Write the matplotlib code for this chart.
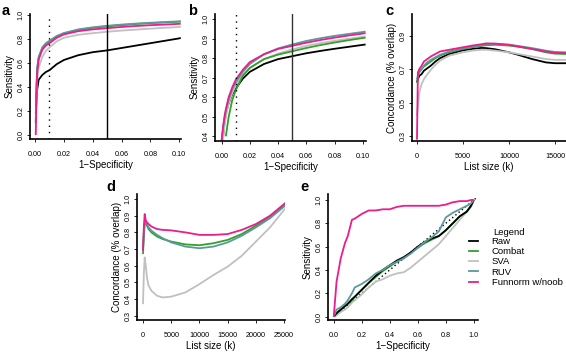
import matplotlib
matplotlib.use('Agg')
import matplotlib.pyplot as plt
from matplotlib.lines import Line2D

plt.rcParams['font.family'] = ['Liberation Sans', 'DejaVu Sans']

# colours for the five methods
col_raw = '#000000'
col_combat = '#33A02C'
col_sva = '#C0C0C0'
col_ruv = '#5A9A9A'
col_fun = '#EC1C8C'

# ---- panel a : ROC zoom (1-specificity 0..0.1)
a_x = [0.0005, 0.001, 0.0015, 0.0025, 0.005, 0.0075, 0.01, 0.015, 0.02, 0.03, 0.04, 0.05, 0.06, 0.07, 0.08, 0.09, 0.10, 0.101]
a_raw = [0.18, 0.30, 0.38, 0.46, 0.50, 0.525, 0.54, 0.59, 0.625, 0.665, 0.69, 0.705, 0.725, 0.745, 0.765, 0.785, 0.805, 0.81]
a_combat = [0.10, 0.40, 0.55, 0.64, 0.72, 0.76, 0.78, 0.82, 0.845, 0.875, 0.893, 0.905, 0.915, 0.925, 0.932, 0.938, 0.944, 0.945]
a_sva = [0.12, 0.29, 0.45, 0.56, 0.65, 0.70, 0.73, 0.78, 0.81, 0.835, 0.848, 0.86, 0.87, 0.878, 0.886, 0.893, 0.90, 0.90]
a_ruv = [0.10, 0.40, 0.56, 0.65, 0.73, 0.765, 0.785, 0.825, 0.85, 0.88, 0.897, 0.91, 0.92, 0.928, 0.935, 0.941, 0.947, 0.948]
a_fun = [0.0, 0.35, 0.53, 0.63, 0.71, 0.745, 0.765, 0.81, 0.838, 0.865, 0.88, 0.89, 0.90, 0.908, 0.915, 0.92, 0.926, 0.927]

# ---- panel b : ROC zoom, second comparison
b_x = [0.0, 0.001, 0.002, 0.003, 0.005, 0.0075, 0.01, 0.015, 0.02, 0.03, 0.04, 0.05, 0.06, 0.07, 0.08, 0.09, 0.10, 0.102]
b_raw = [None, 0.40, 0.47, 0.52, 0.57, 0.615, 0.645, 0.695, 0.73, 0.77, 0.795, 0.81, 0.825, 0.837, 0.848, 0.858, 0.868, 0.87]
b_combat = [None, None, None, 0.40, 0.50, 0.585, 0.635, 0.71, 0.75, 0.795, 0.818, 0.835, 0.852, 0.867, 0.88, 0.892, 0.903, 0.905]
b_sva = [None, 0.38, 0.45, 0.50, 0.57, 0.62, 0.66, 0.715, 0.75, 0.795, 0.823, 0.845, 0.863, 0.877, 0.889, 0.899, 0.909, 0.911]
b_ruv = [0.38, 0.44, 0.49, 0.53, 0.59, 0.64, 0.675, 0.73, 0.77, 0.82, 0.85, 0.87, 0.888, 0.902, 0.914, 0.924, 0.934, 0.936]
b_fun = [0.38, 0.45, 0.50, 0.54, 0.60, 0.65, 0.69, 0.74, 0.78, 0.82, 0.847, 0.863, 0.879, 0.893, 0.905, 0.916, 0.926, 0.928]

# ---- panel c : concordance vs list size
c_x = [0, 100, 250, 500, 750, 1000, 1500, 2000, 2500, 3500, 5000, 6000, 7000, 7500, 8500, 10000, 11000, 12500, 14000, 15000, 16200]
c_raw = [0.62, 0.64, 0.66, 0.67, 0.69, 0.70, 0.72, 0.745, 0.765, 0.79, 0.812, 0.82, 0.826, 0.825, 0.818, 0.80, 0.785, 0.76, 0.74, 0.735, 0.735]
c_combat = [0.62, 0.65, 0.68, 0.70, 0.715, 0.725, 0.745, 0.765, 0.78, 0.80, 0.82, 0.83, 0.838, 0.842, 0.845, 0.84, 0.833, 0.82, 0.80, 0.792, 0.79]
c_sva = [0.42, 0.48, 0.56, 0.61, 0.64, 0.66, 0.695, 0.725, 0.75, 0.78, 0.80, 0.81, 0.815, 0.815, 0.81, 0.80, 0.79, 0.775, 0.76, 0.755, 0.755]
c_ruv = [0.64, 0.66, 0.69, 0.70, 0.72, 0.735, 0.755, 0.77, 0.785, 0.805, 0.823, 0.833, 0.841, 0.846, 0.848, 0.845, 0.838, 0.825, 0.81, 0.802, 0.80]
c_fun = [0.28, 0.68, 0.70, 0.72, 0.745, 0.755, 0.775, 0.79, 0.805, 0.815, 0.83, 0.84, 0.848, 0.853, 0.852, 0.845, 0.835, 0.82, 0.805, 0.797, 0.795]

# ---- panel d : concordance over the full list
d_x = [0, 150, 300, 500, 700, 1000, 1500, 2500, 3500, 5000, 7500, 10000, 12500, 15000, 17500, 20000, 22500, 25000, 26000]
d_combat = [0.67, 0.78, 0.85, 0.86, 0.84, 0.82, 0.80, 0.775, 0.76, 0.745, 0.728, 0.723, 0.735, 0.755, 0.79, 0.84, 0.89, 0.96, 0.99]
d_sva = [0.37, 0.55, 0.65, 0.60, 0.53, 0.48, 0.45, 0.42, 0.41, 0.415, 0.44, 0.49, 0.545, 0.595, 0.66, 0.745, 0.83, 0.935, 0.975]
d_ruv = [0.70, 0.80, 0.86, 0.87, 0.85, 0.83, 0.81, 0.785, 0.765, 0.74, 0.715, 0.705, 0.715, 0.74, 0.78, 0.83, 0.885, 0.955, 0.99]
d_fun = [0.69, 0.83, 0.91, 0.87, 0.86, 0.85, 0.835, 0.82, 0.815, 0.812, 0.80, 0.785, 0.785, 0.79, 0.815, 0.85, 0.9, 0.97, 1.0]

# ---- panel e : full ROC
e_x = [0.0, 0.02, 0.05, 0.08, 0.10, 0.13, 0.15, 0.20, 0.25, 0.30, 0.35, 0.40, 0.45, 0.50, 0.55, 0.60, 0.65, 0.70, 0.75, 0.80, 0.85, 0.90, 0.95, 0.98, 1.0]
e_raw = [0.0, 0.03, 0.06, 0.09, 0.11, 0.15, 0.17, 0.23, 0.29, 0.35, 0.40, 0.44, 0.48, 0.51, 0.55, 0.60, 0.64, 0.67, 0.69, 0.74, 0.80, 0.86, 0.90, 0.95, 1.0]
e_combat = [0.0, 0.03, 0.06, 0.09, 0.11, 0.14, 0.17, 0.23, 0.29, 0.34, 0.39, 0.43, 0.47, 0.50, 0.55, 0.59, 0.63, 0.66, 0.69, 0.74, 0.80, 0.86, 0.90, 0.95, 1.0]
e_sva = [0.0, 0.01, 0.04, 0.06, 0.08, 0.12, 0.14, 0.19, 0.25, 0.30, 0.32, 0.35, 0.37, 0.38, 0.42, 0.47, 0.52, 0.57, 0.62, 0.69, 0.76, 0.83, 0.90, 0.94, 1.0]
e_ruv = [0.0, 0.06, 0.08, 0.11, 0.14, 0.20, 0.25, 0.28, 0.32, 0.37, 0.40, 0.44, 0.47, 0.50, 0.54, 0.59, 0.64, 0.68, 0.73, 0.85, 0.89, 0.92, 0.95, 0.97, 1.0]
e_fun = [0.0, 0.30, 0.50, 0.63, 0.69, 0.83, 0.84, 0.88, 0.91, 0.91, 0.92, 0.92, 0.94, 0.95, 0.95, 0.95, 0.95, 0.95, 0.95, 0.96, 0.98, 0.99, 0.99, 1.0, 1.0]

labels = ['Raw', 'Combat', 'SVA', 'RUV', 'Funnorm w/noob']
colors = [col_raw, col_combat, col_sva, col_ruv, col_fun]

W, H = 566, 352
fig = plt.figure(figsize=(W / 100, H / 100), dpi=100)


def px_axes(x0, y0, x1, y1):
    # axes box given in pixels (top-left origin)
    return fig.add_axes([x0 / W, 1 - y1 / H, (x1 - x0) / W, (y1 - y0) / H])


def style(ax, xl, yl, xticks, xticklabels, yticks, yticklabels):
    ax.spines['top'].set_visible(False)
    ax.spines['right'].set_visible(False)
    ax.spines['left'].set_linewidth(1.2)
    ax.spines['bottom'].set_linewidth(1.2)
    ax.set_xticks(xticks)
    ax.set_xticklabels(xticklabels, fontsize=5.2)
    ax.set_yticks(yticks)
    ax.set_yticklabels(yticklabels, fontsize=5.2, rotation=90, va='center')
    ax.tick_params(axis='x', length=2.5, width=0.6, pad=6.3, direction='out')
    ax.tick_params(axis='y', length=2.5, width=0.6, pad=1.5, direction='out')
    ax.set_xlabel(xl, fontsize=7, labelpad=1.0)
    ax.set_ylabel(yl, fontsize=7, labelpad=2.0)


def draw(ax, x, series):
    # series: list of (values, colour) in drawing order
    for ys, c in series:
        pts = [(xx, yy) for xx, yy in zip(x, ys) if yy is not None]
        ax.plot([p[0] for p in pts], [p[1] for p in pts], color=c, lw=1.3, solid_capstyle='butt')


def letter(x, y, s):
    fig.text(x / W, 1 - y / H, s, fontsize=10.5, fontweight='bold', ha='left', va='center')


# panel a
ax = px_axes(30, 14, 181, 139)
draw(ax, a_x, [(a_raw, col_raw), (a_sva, col_sva), (a_combat, col_combat),
               (a_ruv, col_ruv), (a_fun, col_fun)])
ax.axvline(0.01, color='black', lw=1.0, ls=(0, (1, 3.5)))
ax.axvline(0.05, color='black', lw=1.0)
ax.set_xlim(-0.0035, 0.1012)
ax.set_ylim(-0.033, 1.008)
ticks = [0.0, 0.02, 0.04, 0.06, 0.08, 0.10]
style(ax, '1\u2212Specificity', 'Sensitivity', ticks, ['%.2f' % t for t in ticks],
      [0, 0.2, 0.4, 0.6, 0.8, 1.0], ['0.0', '0.2', '0.4', '0.6', '0.8', '1.0'])
letter(2, 11, 'a')

# panel b
ax = px_axes(215, 14, 366, 141)
draw(ax, b_x, [(b_raw, col_raw), (b_sva, col_sva), (b_combat, col_combat),
               (b_ruv, col_ruv), (b_fun, col_fun)])
ax.axvline(0.01, color='black', lw=1.0, ls=(0, (1, 3.5)))
ax.axvline(0.05, color='#333333', lw=1.0)
ax.set_xlim(-0.0047, 0.1023)
ax.set_ylim(0.376, 1.026)
yt = [0.4, 0.5, 0.6, 0.7, 0.8, 0.9, 1.0]
style(ax, '1\u2212Specificity', 'Sensitivity', ticks, ['%.2f' % t for t in ticks],
      yt, ['%.1f' % t for t in yt])
letter(188, 11, 'b')

# panel c
ax = px_axes(412, 14, 566, 141)
draw(ax, c_x, [(c_raw, col_raw), (c_sva, col_sva), (c_combat, col_combat),
               (c_ruv, col_ruv), (c_fun, col_fun)])
ax.set_xlim(-540, 16200)
ax.set_ylim(0.272, 1.028)
yt = [0.3, 0.5, 0.7, 0.9]
style(ax, 'List size (k)', 'Concordance (% overlap)', [0, 5000, 10000, 15000],
      ['0', '5000', '10000', '15000'], yt, ['%.1f' % t for t in yt])
letter(385, 11, 'c')

# panel d
ax = px_axes(137, 194, 285, 320)
draw(ax, d_x, [(d_sva, col_sva), (d_combat, col_combat), (d_ruv, col_ruv), (d_fun, col_fun)])
ax.set_xlim(-1060, 25150)
ax.set_ylim(0.275, 1.03)
yt = [0.3, 0.4, 0.5, 0.6, 0.7, 0.8, 0.9, 1.0]
xt = [0, 5000, 10000, 15000, 20000, 25000]
style(ax, 'List size (k)', 'Concordance (% overlap)', xt, [str(t) for t in xt],
      yt, ['%.1f' % t for t in yt])
letter(106, 187, 'd')

# panel e
ax = px_axes(328, 194, 478, 320)
ax.plot([0, 1.02], [0, 1.02], color='black', lw=1.0, ls=(0, (1, 2)))
draw(ax, e_x, [(e_sva, col_sva), (e_combat, col_combat), (e_raw, col_raw),
               (e_ruv, col_ruv), (e_fun, col_fun)])
ax.set_xlim(-0.041, 1.03)
ax.set_ylim(-0.029, 1.051)
t = [0, 0.2, 0.4, 0.6, 0.8, 1.0]
style(ax, '1\u2212Specificity', 'Sensitivity', t, ['%.1f' % v for v in t],
      t, ['%.1f' % v for v in t])
letter(300, 187, 'e')

# legend, title written separately so it lines up with the labels
handles = [Line2D([], [], color=c, lw=1.3) for c in colors]
fig.legend(handles, labels, loc='upper left',
           bbox_to_anchor=(469 / W, 1 - 237 / H), frameon=False,
           fontsize=6.8, handlelength=0.9, handletextpad=1.5,
           labelspacing=0.13, borderpad=0, borderaxespad=0)
fig.text(493 / W, 1 - 232.5 / H, 'Legend', fontsize=6.8, ha='left', va='center')

fig.savefig('out.png', dpi=100)
